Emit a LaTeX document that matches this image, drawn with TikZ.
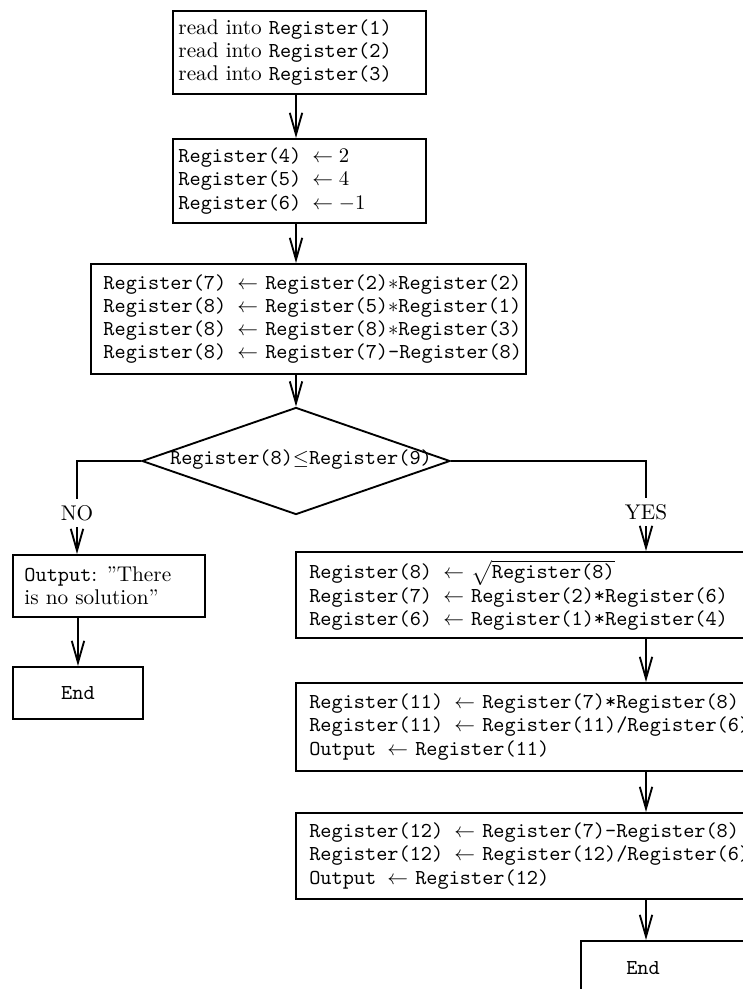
\documentclass[tikz,border=0pt]{standalone}
\usetikzlibrary{shapes.geometric,arrows.meta}
\begin{document}
\begin{tikzpicture}[x=0.482pt,y=-0.482pt,
  bx/.style={draw, line width=0.9pt, rectangle, inner sep=0pt, anchor=north west},
  txt/.style={inner sep=0pt, align=left, anchor=west, font=\fontsize{10.25pt}{11.2pt}\selectfont},
  lbl/.style={inner sep=3pt, font=\fontsize{10.25pt}{12pt}\selectfont},
  ln/.style={line width=0.9pt},
  arr/.style={line width=0.9pt, -{Straight Barb[length=10.5pt,width=6pt]}}]
\useasboundingbox (0,0) rectangle (743,989);
\clip (0,0) rectangle (743,989);
% top boxes
\node[bx, minimum width=121.95pt, minimum height=40pt] (b1) at (172,10) {};
\node[txt] (b1t) at ([xshift=2.9pt]b1.west) {read into \texttt{Register(1)}\\read into \texttt{Register(2)}\\read into \texttt{Register(3)}};
\node[bx, minimum width=121.95pt, minimum height=40.5pt] (b2) at (172,138) {};
\node[txt] (b2t) at ([xshift=2.9pt]b2.west) {\texttt{Register(4) }$\leftarrow 2$\\\texttt{Register(5) }$\leftarrow 4$\\\texttt{Register(6) }$\leftarrow -1$};
\node[bx, minimum width=209.7pt, minimum height=53pt] (b3) at (90,263) {};
\node[txt] (b3t) at ([xshift=6.3pt]b3.west) {\texttt{Register(7) }$\leftarrow$ \texttt{Register(2)}$*$\texttt{Register(2)}\\
\texttt{Register(8) }$\leftarrow$ \texttt{Register(5)}$*$\texttt{Register(1)}\\
\texttt{Register(8) }$\leftarrow$ \texttt{Register(8)}$*$\texttt{Register(3)}\\
\texttt{Register(8) }$\leftarrow$ \texttt{Register(7)-Register(8)}};
% decision
\node[draw, line width=0.9pt, diamond, inner sep=0pt, minimum width=148.5pt, minimum height=51.6pt] (dia) at (296,461) {};
\node[txt, anchor=center] (dt) at (301,460) {\texttt{Register(8)}$\leq$\texttt{Register(9)}};
\node[lbl] (no) at (77,513) {NO};
\node[lbl] (yes) at (646,512) {YES};
% left branch
\node[bx, minimum width=92.5pt, minimum height=29.9pt] (out) at (12,554) {};
\node[txt] (outt) at ([xshift=5.8pt]out.west) {\texttt{Output}: \textquotedblright There\\is no solution\textquotedblright};
\node[bx, minimum width=62.7pt, minimum height=25.1pt] (endl) at (12,666) {};
\node[txt, anchor=center] (endlt) at (endl.center) {\texttt{End}};
% right branch
\node[bx, minimum width=229pt, minimum height=41.5pt] (r1) at (295,551) {};
\node[txt] (r1t) at ([xshift=6.7pt]r1.west) {\texttt{Register(8) }$\leftarrow$ $\sqrt{\texttt{Register(8)}}$\\
\texttt{Register(7) }$\leftarrow$ \texttt{Register(2)*Register(6)}\\
\texttt{Register(6) }$\leftarrow$ \texttt{Register(1)*Register(4)}};
\node[bx, minimum width=229pt, minimum height=42.4pt] (r2) at (295,682) {};
\node[txt] (r2t) at ([xshift=6.7pt]r2.west) {\texttt{Register(11) }$\leftarrow$ \texttt{Register(7)*Register(8)}\\
\texttt{Register(11) }$\leftarrow$ \texttt{Register(11)/Register(6)}\\
\texttt{Output }$\leftarrow$ \texttt{Register(11)}};
\node[bx, minimum width=229pt, minimum height=41.5pt] (r3) at (295,812) {};
\node[txt] (r3t) at ([xshift=6.7pt]r3.west) {\texttt{Register(12) }$\leftarrow$ \texttt{Register(7)-Register(8)}\\
\texttt{Register(12) }$\leftarrow$ \texttt{Register(12)/Register(6)}\\
\texttt{Output }$\leftarrow$ \texttt{Register(12)}};
\node[bx, minimum width=96.4pt, minimum height=38.6pt] (endr) at (580,940) {};
\node[txt, anchor=center] (endrt) at (643,968) {\texttt{End}};
% connectors
\draw[arr] (b1.south -| dia.north) -- (b2.north -| dia.north);
\draw[arr] (b2.south -| dia.north) -- (b3.north -| dia.north);
\draw[arr] (b3.south -| dia.north) -- (dia.north);
\draw[ln] (dia.west) -| (no.north);
\draw[arr] (no.south) -- (no.south |- out.north);
\draw[arr] (out.south -| endl.north) -- (endl.north);
\draw[ln] (dia.east) -| (yes.north);
\draw[arr] (yes.south) -- (yes.south |- r1.north);
\draw[arr] (r1.south -| yes.south) -- (r2.north -| yes.south);
\draw[arr] (r2.south -| yes.south) -- (r3.north -| yes.south);
\draw[arr] (r3.south -| yes.south) -- (endr.north -| yes.south);
\end{tikzpicture}
\end{document}
